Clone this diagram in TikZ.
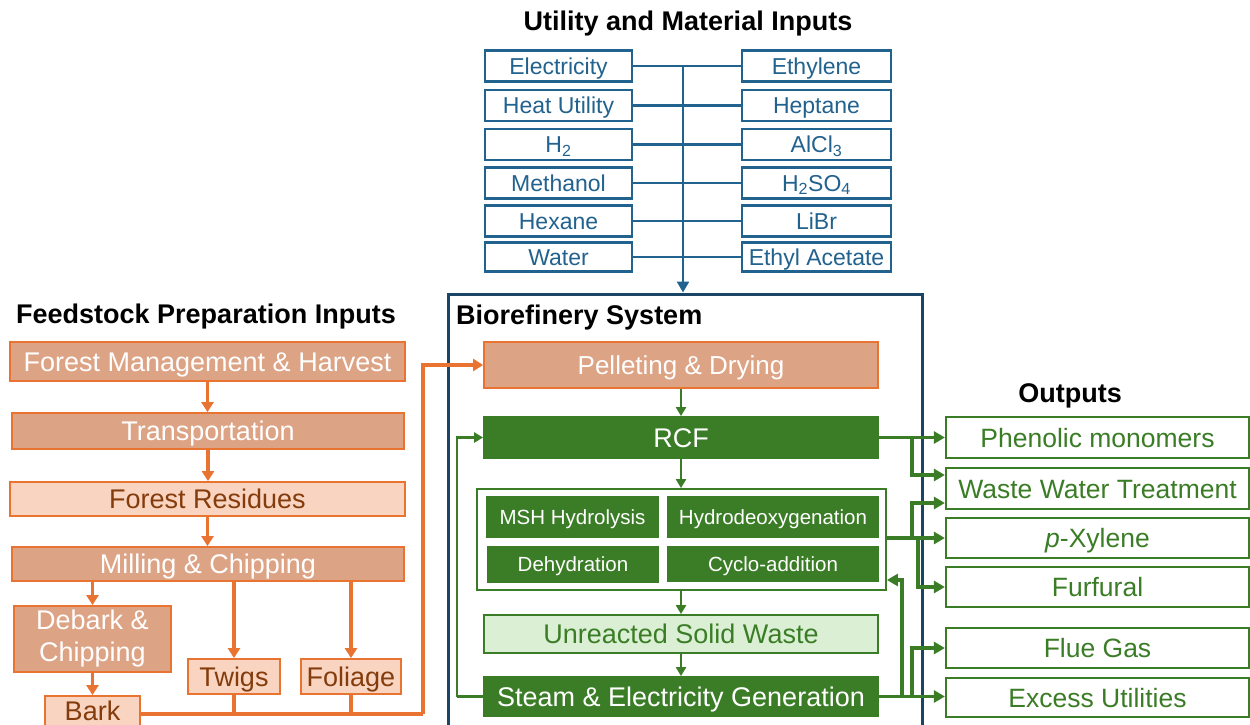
\documentclass[tikz,border=0pt]{standalone}
\usepackage{fontspec}
\setmainfont{Liberation Sans}
\usetikzlibrary{arrows.meta}
\definecolor{ublue}{HTML}{22628E}
\definecolor{navy}{HTML}{1B4566}
\definecolor{orl}{HTML}{E97432}
\definecolor{tanf}{HTML}{DDA385}
\definecolor{ltor}{HTML}{F9D4C0}
\definecolor{brn}{HTML}{843C0C}
\definecolor{grn}{HTML}{3B7D26}
\definecolor{ltgrn}{HTML}{DAEFD3}
\begin{document}
\begin{tikzpicture}[x=1pt,y=-1pt,
  cA/.style={text height=22pt,text depth=2.7pt},
  cB/.style={text height=19pt,text depth=2.5pt},
  cC/.style={text height=17pt,text depth=2.3pt},
  cD/.style={text height=21.5pt,text depth=2.5pt},
  ubox/.style={cB,draw=ublue,line width=2.2pt,fill=white,text=ublue,font=\fontsize{23}{26}\selectfont,inner sep=0pt,minimum height=31pt},
  ttl/.style={font=\bfseries\fontsize{27}{30}\selectfont,text=black,inner sep=0pt},
  tanplain/.style={draw=orl,line width=1.8pt,fill=tanf,text=white,font=\fontsize{27}{32}\selectfont,inner sep=0pt,align=center},
  tanbox/.style={tanplain,cA},
  ltbox/.style={cA,draw=orl,line width=1.8pt,fill=ltor,text=brn,font=\fontsize{27}{32}\selectfont,inner sep=0pt},
  gbox/.style={cA,draw=grn,line width=1.8pt,fill=grn,text=white,font=\fontsize{27}{32}\selectfont,inner sep=0pt},
  gsmall/.style={gbox,cC,font=\fontsize{20.5}{24}\selectfont},
  glt/.style={cA,draw=grn,line width=1.8pt,fill=ltgrn,text=grn,font=\fontsize{27}{32}\selectfont,inner sep=0pt},
  obox/.style={cD,draw=grn,line width=2.2pt,fill=white,text=grn,font=\fontsize{26.5}{30}\selectfont,inner sep=0pt,minimum width=303pt},
  uline/.style={draw=ublue,line width=2.4pt},
  oline/.style={draw=orl,line width=3.2pt},
  oarr/.style={oline,-{Triangle[length=10pt,width=12pt]}},
  gline/.style={draw=grn,line width=2.5pt},
  garr/.style={gline,-{Triangle[length=9pt,width=10pt]}},
  gthk/.style={draw=grn,line width=3.5pt,-{Triangle[length=11pt,width=12pt]}}
]
\useasboundingbox (0,0) rectangle (1250,725);

% ---------- Utility inputs ----------
\node[ttl] (uttl) at (688,24) {Utility and Material Inputs};
\node[ubox,minimum width=147pt] (u1) at (558.5,66) {Electricity};
\node[ubox,minimum width=147pt] (u2) at (558.5,105.5) {Heat Utility};
\node[ubox,minimum width=147pt] (u3) at (558.5,144.5) {H\textsubscript{2}};
\node[ubox,minimum width=147pt] (u4) at (558.5,183) {Methanol};
\node[ubox,minimum width=147pt] (u5) at (558.5,221) {Hexane};
\node[ubox,minimum width=147pt,minimum height=29pt] (u6) at (558.5,257) {Water};
\node[ubox,minimum width=149pt] (v1) at (816.5,66) {Ethylene};
\node[ubox,minimum width=149pt] (v2) at (816.5,105.5) {Heptane};
\node[ubox,minimum width=149pt] (v3) at (816.5,144.5) {AlCl\textsubscript{3}};
\node[ubox,minimum width=149pt] (v4) at (816.5,183) {H\textsubscript{2}SO\textsubscript{4}};
\node[ubox,minimum width=149pt] (v5) at (816.5,221) {LiBr};
\node[ubox,minimum width=149pt,minimum height=29pt] (v6) at (816.5,257) {Ethyl Acetate};
\foreach \i in {1,...,6} {\draw[uline] (u\i.east) -- (v\i.west);}

% ---------- Biorefinery container ----------
\node[draw=navy,line width=3pt,minimum width=474pt,minimum height=441pt,inner sep=0pt] (bio) at (685,514.5) {};
\coordinate (spinetop) at (683,66);
\draw[uline,-{Triangle[length=11pt,width=12pt]}] (spinetop) -- (spinetop |- bio.north);
\node[ttl,anchor=west] (bttl) at (456,318) {Biorefinery System};

% ---------- Feedstock ----------
\node[ttl,anchor=west] (fttl) at (16,317) {Feedstock Preparation Inputs};
\node[tanbox,minimum width=395pt,minimum height=39pt] (fmh) at (207.5,361.5) {Forest Management \& Harvest};
\node[tanbox,minimum width=392pt,minimum height=36pt] (tra) at (208,431) {Transportation};
\node[ltbox,minimum width=395pt,minimum height=34pt] (res) at (207.5,499) {Forest Residues};
\node[tanbox,minimum width=392pt,minimum height=34pt] (mil) at (208,564) {Milling \& Chipping};
\node[tanplain,minimum width=157pt,minimum height=66pt] (deb) at (92.5,639) {Debark \&\\Chipping};
\node[ltbox,minimum width=92pt,minimum height=35pt] (twg) at (234,676.5) {Twigs};
\node[ltbox,minimum width=100pt,minimum height=35pt] (fol) at (351,676.5) {Foliage};
\node[ltbox,minimum width=95pt,minimum height=30pt] (brk) at (92.5,711) {Bark};

\draw[oarr] (fmh.south) -- (fmh.south |- tra.north);
\draw[oarr] (tra.south) -- (tra.south |- res.north);
\draw[oarr] (res.south) -- (res.south |- mil.north);
\draw[oarr] (deb.north |- mil.south) -- (deb.north);
\draw[oarr] (twg.north |- mil.south) -- (twg.north);
\draw[oarr] (fol.north |- mil.south) -- (fol.north);
\draw[oarr] (deb.south) -- (deb.south |- brk.north);

% ---------- Biorefinery contents ----------
\node[tanbox,minimum width=394pt,minimum height=46pt,font=\fontsize{26}{30}\selectfont] (pel) at (681,365) {Pelleting \& Drying};
\node[gbox,minimum width=394pt,minimum height=41pt] (rcf) at (681,437.5) {RCF};
\node[draw=grn,line width=1.8pt,fill=white,minimum width=409pt,minimum height=101pt,inner sep=0pt] (grp) at (681.5,539.5) {};
\node[gsmall,minimum width=171pt,minimum height=40pt] (msh) at (572.5,517) {MSH Hydrolysis};
\node[gsmall,minimum width=210pt,minimum height=40pt] (hdo) at (773,517) {Hydrodeoxygenation};
\node[gsmall,minimum width=170pt,minimum height=35pt] (deh) at (573,564.5) {Dehydration};
\node[gsmall,minimum width=210pt,minimum height=34pt] (cyc) at (773,564) {Cyclo-addition};
\node[glt,minimum width=394pt,minimum height=38pt] (usw) at (681,634) {Unreacted Solid Waste};
\node[gbox,minimum width=394pt,minimum height=39pt] (stm) at (681,696.5) {Steam \& Electricity Generation};

\coordinate (bturn) at (423,714);
\draw[oline] (brk.east |- bturn) -- (bturn);
\draw[oarr] (bturn) |- (pel.west);
\draw[oline] (twg.south) -- (twg.south |- bturn);
\draw[oline] (fol.south) -- (fol.south |- bturn);

\draw[garr] (pel.south) -- (pel.south |- rcf.north);
\draw[garr] (rcf.south) -- (rcf.south |- grp.north);
\draw[garr] (rcf.south |- grp.south) -- (rcf.south |- usw.north);
\draw[garr] (usw.south) -- (usw.south |- stm.north);
\coordinate (loop) at (457,696.5);
\draw[gline] (stm.west) -- (loop);
\draw[garr] (loop) |- (rcf.west);

% ---------- Outputs ----------
\node[ttl] (ottl) at (1070,396) {Outputs};
\node[obox,minimum height=41pt] (o1) at (1097.5,437.5) {Phenolic monomers};
\node[obox,minimum height=41pt] (o2) at (1097.5,488.5) {Waste Water Treatment};
\node[obox,minimum height=40pt] (o3) at (1097.5,538) {\textit{p}-Xylene};
\node[obox,minimum height=40pt] (o4) at (1097.5,587) {Furfural};
\node[obox,minimum height=40pt] (o5) at (1097.5,648) {Flue Gas};
\node[obox,minimum height=39pt] (o6) at (1097.5,697.5) {Excess Utilities};

\draw[gthk] (rcf.east) -- (o1.west);
\coordinate (b1) at (912,437.5);
\draw[gthk] (b1) |- ([yshift=13.5pt]o2.west);

\draw[gthk] (o3.west -| grp.east) -- (o3.west);
\coordinate (b2) at (912,538);
\coordinate (b3) at (918,538);
\draw[gthk] (b2) |- ([yshift=-14.5pt]o2.west);
\draw[gthk] (b3) |- (o4.west);

\draw[gthk] (stm.east) -- (o6.west |- stm.east);
\coordinate (b4) at (912,696.5);
\coordinate (b5) at (902,696.5);
\draw[gthk] (b4) |- (o5.west);
\draw[gthk] (b5) |- ([yshift=-40.5pt]grp.east);
\end{tikzpicture}
\end{document}
